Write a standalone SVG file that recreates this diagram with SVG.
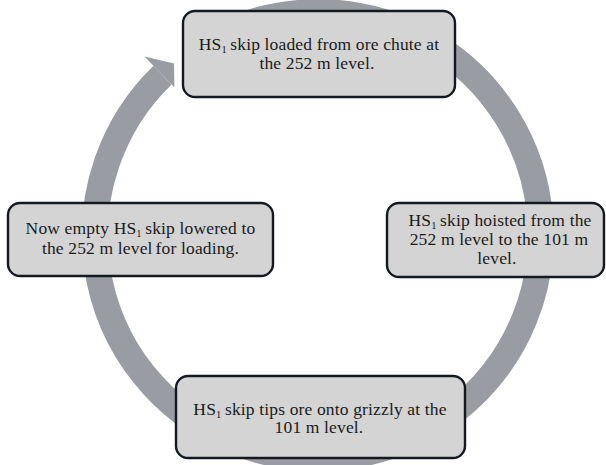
<svg xmlns="http://www.w3.org/2000/svg" width="606" height="465" viewBox="0 0 606 465">
<style>
.box{fill:#d4d4d4;stroke:#141820;stroke-width:2.4}
.t{font-family:"Liberation Serif","Times New Roman",serif;font-size:17.5px;letter-spacing:0.15px;fill:#1a1a1a;text-anchor:middle}
.sub{font-size:10.5px;baseline-shift:-2.5px}
</style>
<rect width="606" height="465" fill="#ffffff"/>
<g id="connectors">
<path d="M206.5,41.9 A223,223 0 1 1 162.5,75.1" fill="none" stroke="#9a9ca3" stroke-width="26"/>
<polygon points="144.4,56.5 174,63.5 174.4,87.3" fill="#9a9ca3"/>
</g>
<g id="node-top">
<rect class="box" x="183" y="11" width="272" height="86" rx="12"/>
<text class="t"><tspan x="319" y="50">HS<tspan class="sub">1</tspan><tspan dx="3.5">skip loaded from ore chute at</tspan></tspan><tspan x="317" y="69">the 252 m level.</tspan></text>
</g>
<g id="node-right">
<rect class="box" x="387" y="203" width="217" height="74" rx="12"/>
<text class="t"><tspan x="500" y="226">HS<tspan class="sub">1</tspan><tspan dx="3.5">skip hoisted from the</tspan></tspan><tspan x="499" y="245">252 m level to the 101 m</tspan><tspan x="497" y="263.5">level.</tspan></text>
</g>
<g id="node-left">
<rect class="box" x="8" y="203" width="265" height="73" rx="12"/>
<text class="t"><tspan x="140.5" y="234">Now empty HS<tspan class="sub">1</tspan><tspan dx="3.5">skip lowered to</tspan></tspan><tspan x="140.5" y="254">the 252 m level<tspan dx="3">for loading.</tspan></tspan></text>
</g>
<g id="node-bottom">
<rect class="box" x="176" y="376" width="289" height="82" rx="12"/>
<text class="t"><tspan x="320" y="414.5">HS<tspan class="sub">1</tspan><tspan dx="3.5">skip tips ore onto grizzly at the</tspan></tspan><tspan x="319" y="433">101 m level.</tspan></text>
</g>
</svg>
